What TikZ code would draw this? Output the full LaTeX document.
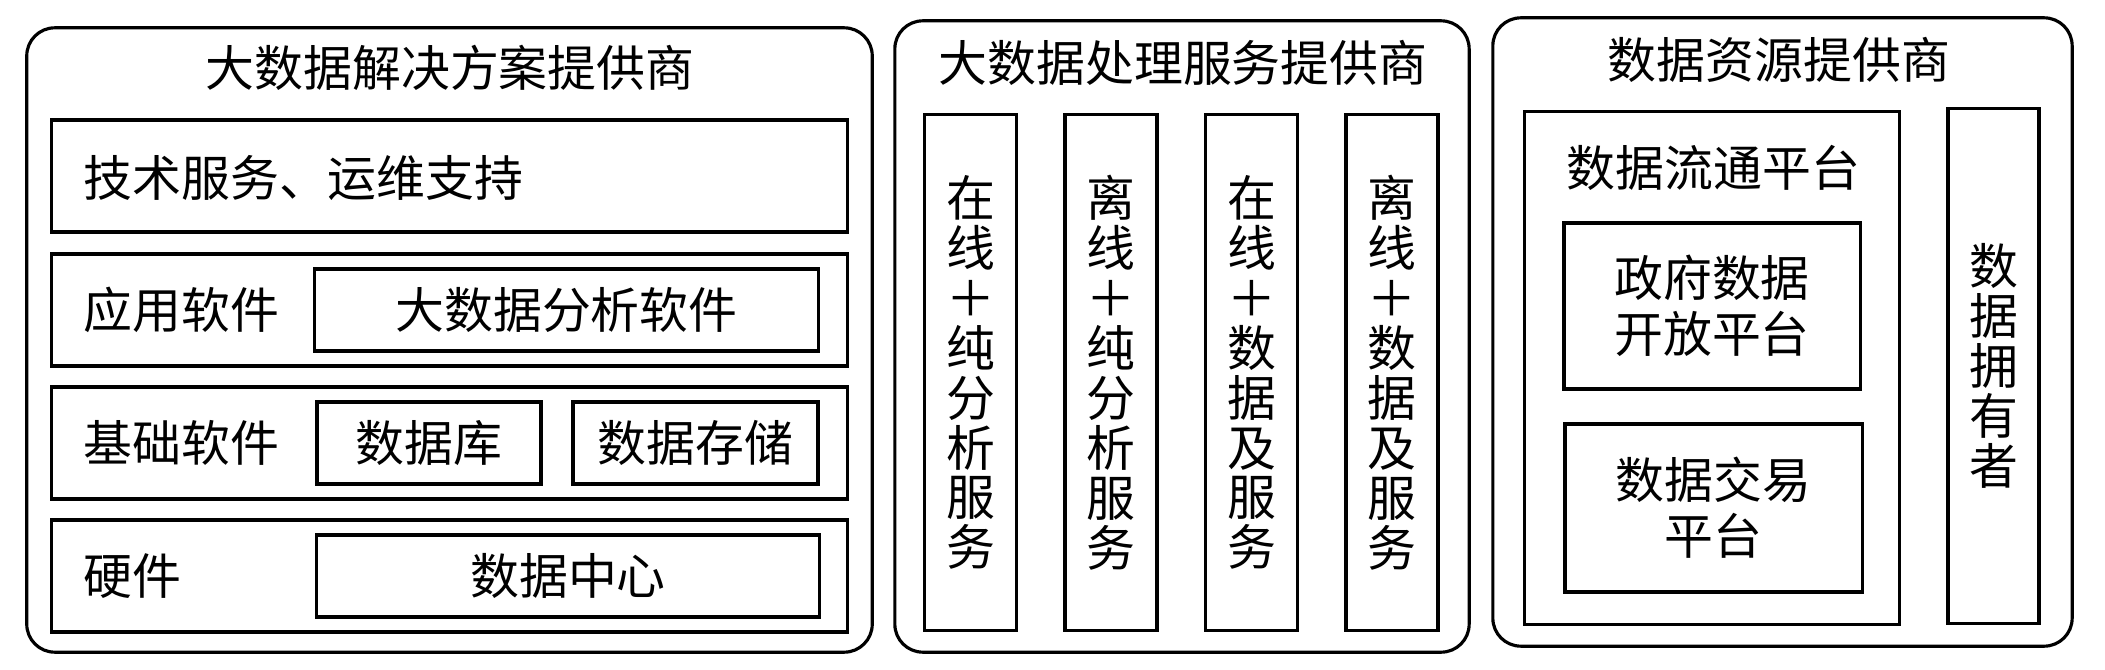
\documentclass[tikz,border=0pt]{standalone}
\usepackage{fontspec}
\setmainfont{Noto Sans CJK SC}
\usepackage[]{xcolor}
\begin{document}
\begin{tikzpicture}[
            x=0.01cm, y=-0.01cm,
            line width=0.9pt,
            font=\fontsize{13.9pt}{14.2pt}\selectfont,
            panel/.style={rectangle, draw, rounded corners=0.28cm, inner sep=0pt},
            layerbox/.style={rectangle, draw, minimum width=7.95cm, minimum height=1.12cm, inner sep=0pt},
            cellbox/.style={rectangle, draw, minimum height=0.82cm, inner sep=0pt},
            servicecol/.style={rectangle, draw, minimum width=0.92cm, minimum height=5.15cm, align=center, inner sep=0pt},
            platbox/.style={rectangle, draw, align=center, inner sep=0pt, font=\fontsize{13.9pt}{16pt}\selectfont},
            rowtext/.style={anchor=west, inner sep=0pt}
        ]
            \useasboundingbox (0,0) rectangle (2105,670);

            % 大数据解决方案提供商
            \node[panel, minimum width=8.45cm, minimum height=6.24cm] (P1) at (449.5,340) {};
            \node (T1) at (450,68) {大数据解决方案提供商};
            \node[layerbox] (R1) at (449.5,176) {};
            \node[layerbox] (R2) at (449.5,310) {};
            \node[layerbox] (R3) at (449.5,443) {};
            \node[layerbox] (R4) at (449.5,576) {};
            \node[rowtext] (L1) at (82,178) {技术服务、运维支持};
            \node[rowtext] (L2) at (82,310) {应用软件};
            \node[rowtext] (L3) at (82,443) {基础软件};
            \node[rowtext] (L4) at (82,576) {硬件};
            \node[cellbox, minimum width=5.03cm] (A) at (566.5,310) {大数据分析软件};
            \node[cellbox, minimum width=2.24cm] (DB) at (429,443) {数据库};
            \node[cellbox, minimum width=2.45cm] (ST) at (695.5,443) {数据存储};
            \node[cellbox, minimum width=5.02cm] (DC) at (568,576) {数据中心};

            % 大数据处理服务提供商
            \node[panel, minimum width=5.74cm, minimum height=6.31cm] (P2) at (1182,336.5) {};
            \node (T2) at (1183,63) {大数据处理服务提供商};
            \node[servicecol] (S1) at (970.5,372.5) {在\\线\\＋\\纯\\分\\析\\服\\务};
            \node[servicecol] (S2) at (1111,372.5) {离\\线\\＋\\纯\\分\\析\\服\\务};
            \node[servicecol] (S3) at (1251.5,372.5) {在\\线\\＋\\数\\据\\及\\服\\务};
            \node[servicecol] (S4) at (1392,372.5) {离\\线\\＋\\数\\据\\及\\服\\务};

            % 数据资源提供商
            \node[panel, minimum width=5.79cm, minimum height=6.28cm] (P3) at (1782.5,332) {};
            \node (T3) at (1779,60) {数据资源提供商};
            \node[rectangle, draw, minimum width=3.74cm, minimum height=5.12cm] (F) at (1712,368) {};
            \node[rowtext] (LF) at (1565,168) {数据流通平台};
            \node[platbox, minimum width=2.96cm, minimum height=1.66cm] (G1) at (1712,306) {政府数据\\开放平台};
            \node[platbox, minimum width=2.97cm, minimum height=1.68cm] (G2) at (1713.5,508) {数据交易\\平台};
            \node[servicecol, minimum width=0.91cm, minimum height=5.14cm] (O) at (1993.5,366) {数\\据\\拥\\有\\者};
        \end{tikzpicture}
\end{document}
